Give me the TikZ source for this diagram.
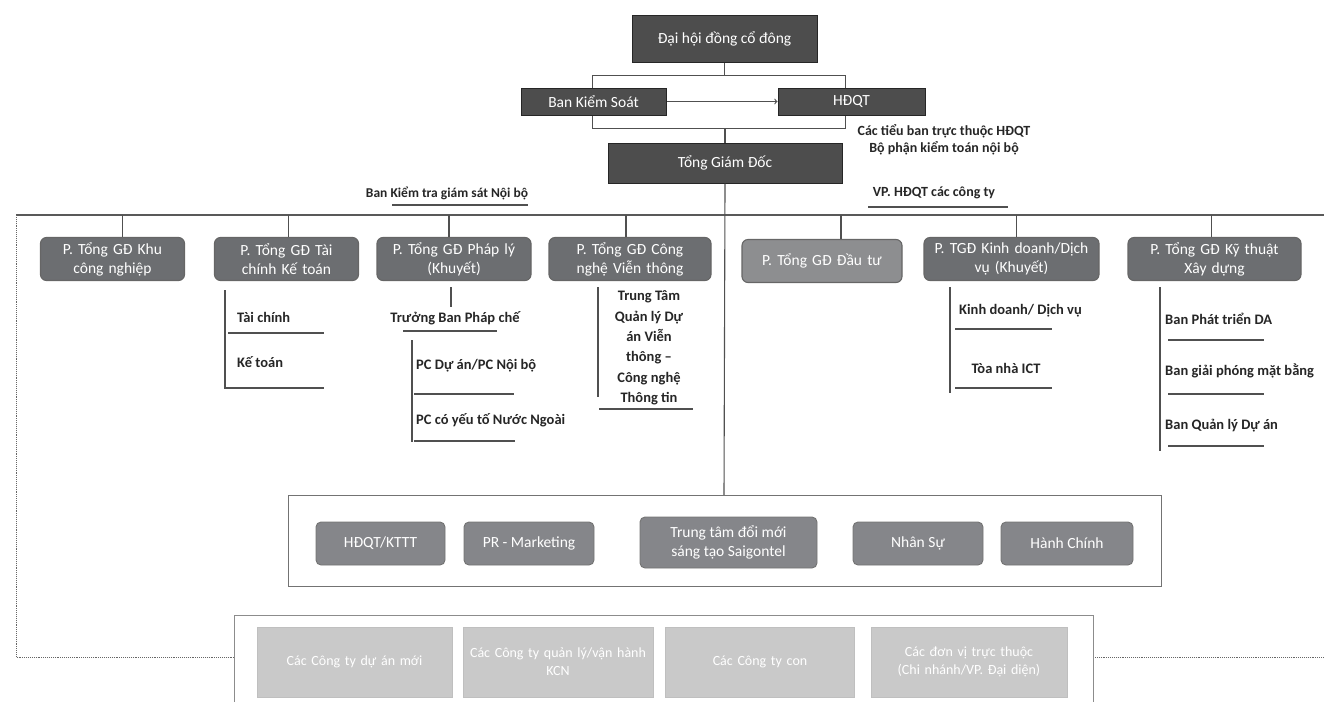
\documentclass[tikz,border=0pt]{standalone}
\usepackage{fontspec}
\setmainfont{Carlito}
\usetikzlibrary{positioning}
\definecolor{darkbox}{HTML}{4D4D4D}
\definecolor{deptgray}{HTML}{6C6E71}
\definecolor{deptlight}{HTML}{8D8E90}
\definecolor{staffgray}{HTML}{85868A}
\definecolor{unitgray}{HTML}{C9C9C9}
\definecolor{linegray}{HTML}{505050}

\begin{document}
\begin{tikzpicture}[x=1pt, y=-1pt]
\tikzstyle{every node} = [font = \fontsize{15.5}{19}\selectfont, inner sep=2pt]
\tikzstyle{topbox} = [draw=black!85, line width=1pt, fill=darkbox, text=white, align=center]
\tikzstyle{dept} = [draw=black!60, line width=1.1pt, fill=deptgray, text=white, rounded corners=6pt, align=center, minimum height=43, text width=140]
\tikzstyle{staff} = [draw=black!55, line width=.9pt, fill=staffgray, text=white, rounded corners=5pt, align=center, minimum height=43]
\tikzstyle{unit} = [draw=black!25, fill=unitgray, text=white, align=center, minimum height=70, text width=185, font=\fontsize{14}{18}\selectfont]
\tikzstyle{item} = [font = \fontsize{14.5}{20.4}\selectfont\bfseries, text=black!85]
\tikzstyle{conn} = [linegray, line width=1.1pt]
\tikzstyle{dots} = [black!60, densely dotted, line width=.9pt]
\useasboundingbox (0,0) rectangle (1324,702);

% top of the chart
\node[topbox, minimum width=185, minimum height=47] (dhcd) at (724.5,38.5) {Đại hội đồng cổ đông};
\node[draw=linegray, line width=1pt, minimum width=253, minimum height=53, inner sep=0] (bracket) at (718.5,101.5) {};
\node[topbox, minimum width=145, minimum height=27] (bks) at (593.5,101.5) {Ban Kiểm Soát};
\node[topbox, minimum width=147, minimum height=27] (hdqt) at (851.5,101.5) {HĐQT};
\node[topbox, minimum width=234, minimum height=40] (tgd) at (725,163) {Tổng Giám Đốc};
\node[item, align=center, font=\fontsize{14}{17}\selectfont\bfseries] (tieuban) at (944,140) {Các tiểu ban trực thuộc HĐQT\\Bộ phận kiểm toán nội bộ};
\node[item, font=\fontsize{13.5}{16}\selectfont\bfseries] (ktgs) at (447,193) {Ban Kiểm tra giám sát Nội bộ};
\node[item, font=\fontsize{14}{16}\selectfont\bfseries] (vphd) at (934,193) {VP. HĐQT các công ty};

\draw[conn] (dhcd.south) -- (dhcd.south |- bracket.north);
\draw[conn] (tgd.north) -- (tgd.north |- bracket.south);
\draw[conn, ->] (bks.east) -- (hdqt.west);
\draw[conn] (392,205) -- (528,205); %underline ktgs
\draw[conn] (868,207) -- (1008,207); %underline vphd

% bus and the deputy directors
\coordinate (busL) at (16,215);
\coordinate (busR) at (1324,215);
\draw[conn, black!65] (busL) -- (busR);

\node[dept] (d1) at (112.5,259) {P. Tổng GĐ Khu\\công nghiệp};
\node[dept] (d2) at (286.5,259) {P. Tổng GĐ Tài\\chính Kế toán};
\node[dept, text width=150] (d3) at (454,259) {P. Tổng GĐ Pháp lý\\(Khuyết)};
\node[dept, text width=158] (d4) at (630,259) {P. Tổng GĐ Công\\nghệ Viễn thông};
\node[dept, fill=deptlight, minimum width=160, text width=150] (d5) at (822,261) {P. Tổng GĐ Đầu tư};
\node[dept, text width=171] (d6) at (1011.5,259) {P. TGĐ Kinh doanh/Dịch\\vụ (Khuyết)};
\node[dept, text width=169] (d7) at (1214.5,259) {P. Tổng GĐ Kỹ thuật\\Xây dựng};

\foreach \d/\s in {d1/10,d2/2,d3/-5,d4/-4,d5/19,d6/5,d7/-3}
{
    \draw[conn] ([xshift=\s]\d.north) -- ([xshift=\s]\d.north |- busL);
}
\draw[conn] (tgd.south) -- (724,495); %trunk

% Tai chinh Ke toan
\draw[conn] (225,290) -- (225,389);
\node[item, anchor=west] (tc) at (235,317) {Tài chính};
\draw[conn] (228,333) -- (324,333);
\node[item, anchor=west] (kt) at (235,362) {Kế toán};
\draw[conn] (225,388) -- (324,388);

% Phap ly
\draw[conn] (451,287) -- (451,307);
\node[item] (tbpc) at (455,318) {Trưởng Ban Pháp chế};
\draw[conn] (403,331) -- (497,331);
\draw[conn] (412,340) -- (412,442);
\node[item, anchor=west] (pcda) at (414,366) {PC Dự án/PC Nội bộ};
\draw[conn] (414,394) -- (514,394);
\node[item, anchor=west] (pcnn) at (414,420) {PC có yếu tố Nước Ngoài};
\draw[conn] (414,441) -- (515,441);

% Vien thong
\draw[conn] (598,287) -- (598,397);
\node[item, align=center] (ttvt) at (649,348) {Trung Tâm\\Quản lý Dự\\án Viễn\\thông –\\Công nghệ\\Thông tin};
\draw[conn] (599,409) -- (693,409);

% Kinh doanh
\draw[conn] (950,287) -- (950,393);
\node[item, anchor=west] (kddv) at (957,311) {Kinh doanh/ Dịch vụ};
\draw[conn] (955,329) -- (1052,329);
\node[item] (ict) at (1006,368) {Tòa nhà ICT};
\draw[conn] (955,388) -- (1052,388);

% Ky thuat
\draw[conn] (1160,287) -- (1160,451);
\node[item, anchor=west] (ptda) at (1163,319) {Ban Phát triển DA};
\draw[conn] (1168,340) -- (1264,340);
\node[item, anchor=west] (gpmb) at (1163,371) {Ban giải phóng mặt bằng};
\draw[conn] (1168,394) -- (1264,394);
\node[item, anchor=west] (qlda) at (1163,426) {Ban Quản lý Dự án};
\draw[conn] (1168,446) -- (1264,446);

% staff departments
\draw[black!55, line width=.8pt] (288,495) rectangle (1161,586);
\node[staff, minimum width=129] (s1) at (380.5,543.5) {HĐQT/KTTT};
\node[staff, minimum width=130] (s2) at (529,543.5) {PR - Marketing};
\node[staff, minimum width=177, minimum height=51] (s3) at (728.5,542.5) {Trung tâm đổi mới\\sáng tạo Saigontel};
\node[staff, minimum width=130] (s4) at (918,543.5) {Nhân Sự};
\node[staff, minimum width=132] (s5) at (1067,543.5) {Hành Chính};

% units
\draw[dots] (busL) -- (16,657) -- (234,657);
\draw[dots] (1093,657) -- (1324,657);
\draw[black!45, line width=.8pt] (234,702) -- (234,615) -- (1093,615) -- (1093,702);
\node[unit, minimum width=195] (u1) at (354.5,662) {Các Công ty dự án mới};
\node[unit, minimum width=190, text width=182] (u2) at (558,662) {Các Công ty quản lý/vận hành\\KCN};
\node[unit, minimum width=188] (u3) at (760,662) {Các Công ty con};
\node[unit, minimum width=196] (u4) at (969,662) {Các đơn vị trực thuộc\\(Chi nhánh/VP. Đại diện)};
\end{tikzpicture}
\end{document}
